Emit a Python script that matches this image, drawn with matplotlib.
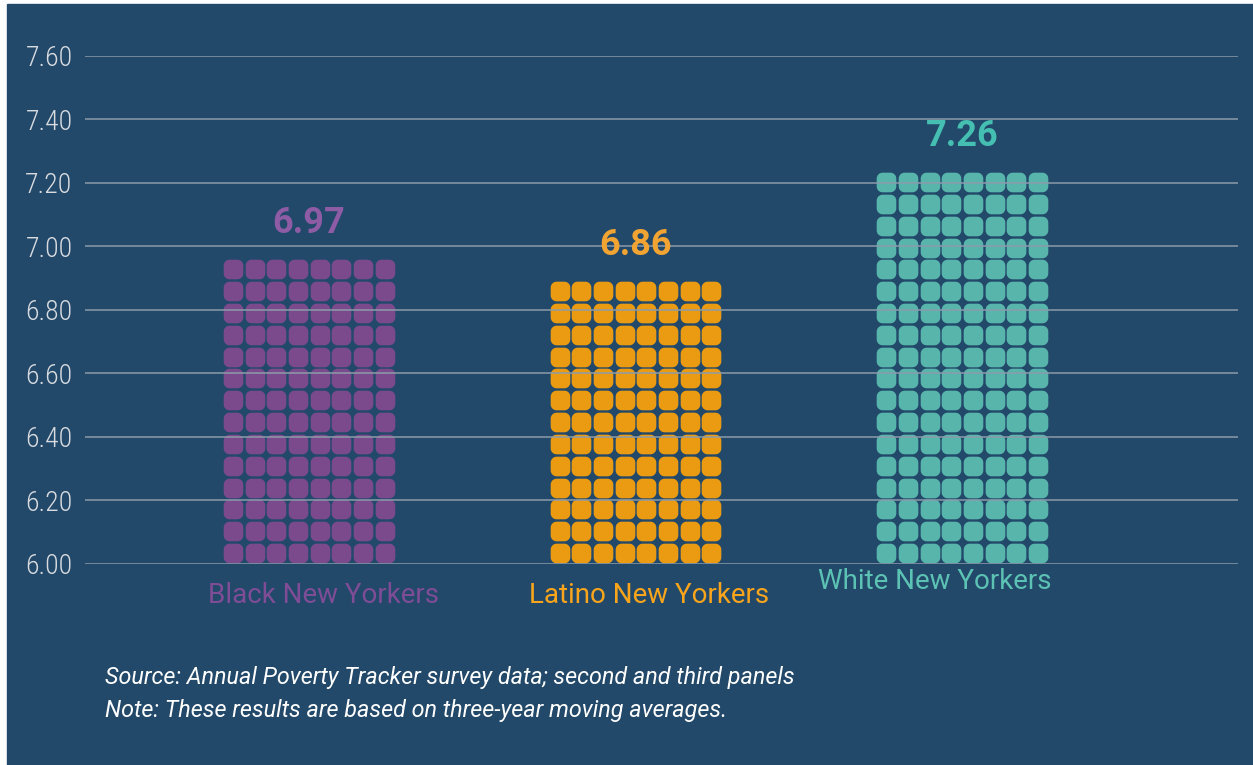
import numpy as np
import matplotlib
matplotlib.use("Agg")
import matplotlib.pyplot as plt
from matplotlib import font_manager
from matplotlib.path import Path
from matplotlib.patches import Rectangle

# ---- data ----
groups = ["Black New Yorkers", "Latino New Yorkers", "White New Yorkers"]
values = [6.97, 6.86, 7.26]
value_labels = ["6.97", "6.86", "7.26"]
y_ticks = [6.00, 6.20, 6.40, 6.60, 6.80, 7.00, 7.20, 7.40, 7.60]
notes = ["Source: Annual Poverty Tracker survey data; second and third panels",
         "Note: These results are based on three-year moving averages."]

# ---- style ----
BG = "#22486a"
sq_colors = ["#7b4a8d", "#ea9b12", "#57b5ab"]
num_colors = ["#8d5ca5", "#f2a433", "#45bfb2"]
name_colors = ["#7e4d96", "#f8a51c", "#5cc2b4"]
GRID = "#8c9bab"
TICK = "#d8dce0"

BASE = 6.0
ROW_H = 0.0687     # height of one row of dots (data units)
COL_W = 0.0664     # width of one column of dots (data units)
N_COLS = 8


def first_font(names):
    for n in names:
        try:
            font_manager.findfont(n, fallback_to_default=False)
            return n
        except ValueError:
            continue
    return "Roboto"


NARROW = first_font(["Roboto Condensed", "Liberation Sans Narrow",
                     "DejaVu Sans Condensed", "Roboto"])


def rounded_square(r=0.3, n=8):
    """Closed path of a unit square with rounded corners."""
    verts = []
    corners = [(0.5 - r, 0.5 - r, 0), (-0.5 + r, 0.5 - r, 90),
               (-0.5 + r, -0.5 + r, 180), (0.5 - r, -0.5 + r, 270)]
    for cx, cy, a0 in corners:
        t = np.radians(np.linspace(a0, a0 + 90, n))
        verts += list(zip(cx + r * np.cos(t), cy + r * np.sin(t)))
    verts.append(verts[0])
    codes = [Path.MOVETO] + [Path.LINETO] * (len(verts) - 2) + [Path.CLOSEPOLY]
    return Path(verts, codes)


marker = rounded_square()

fig = plt.figure(figsize=(12.53, 7.65), dpi=100, facecolor="white")
fig.patches.append(Rectangle((7 / 1253, 0), 1, 761 / 765,
                             transform=fig.transFigure, color=BG, zorder=-10))

ax = fig.add_axes([85 / 1253, 201 / 765, 1153 / 1253, 508.3 / 765])
ax.set_facecolor("none")

for i, v in enumerate(values):
    n_rows = int(round((v - BASE) / ROW_H))
    xs, ys = [], []
    for r in range(n_rows):
        for c in range(N_COLS):
            xs.append(i + (c - (N_COLS - 1) / 2) * COL_W)
            ys.append(BASE + (r + 0.5) * ROW_H)
    ax.scatter(xs, ys, s=200, marker=marker, color=sq_colors[i],
               linewidths=0, zorder=2)
    top = BASE + n_rows * ROW_H
    ax.annotate(value_labels[i], (i, top), xytext=(0, 18),
                textcoords="offset points", ha="center", va="baseline",
                fontsize=26, fontweight="bold", color=num_colors[i],
                family="Roboto", zorder=4)

# category names under the dots
name_offsets = [(0.046, 5.90), (0.040, 5.90), (-0.083, 5.946)]
for i, g in enumerate(groups):
    dx, yy = name_offsets[i]
    ax.text(i + dx, yy, g, ha="center", va="center", fontsize=20,
            color=name_colors[i], family="Roboto", clip_on=False)

ax.set_ylim(6.0, 7.6)
ax.set_xlim(-0.685, 2.844)
ax.set_yticks(y_ticks)
ax.set_yticklabels([f"{t:.2f}" for t in y_ticks])
ax.set_xticks([])
ax.tick_params(axis="y", length=0, pad=9, labelsize=20, labelcolor=TICK)
for lab in ax.get_yticklabels():
    lab.set_family(NARROW)
    lab.set_fontweight("light")
ax.grid(axis="y", color=GRID, lw=1.1, zorder=3)
ax.set_axisbelow(False)
for s in ax.spines.values():
    s.set_visible(False)

fig.text(105 / 1253, 81 / 765, notes[0], fontsize=16.8, style="italic",
         color="white", family="Roboto", va="baseline")
fig.text(105 / 1253, 48 / 765, notes[1], fontsize=16.8, style="italic",
         color="white", family="Roboto", va="baseline")

fig.savefig("out.png", dpi=100, facecolor=fig.get_facecolor())
